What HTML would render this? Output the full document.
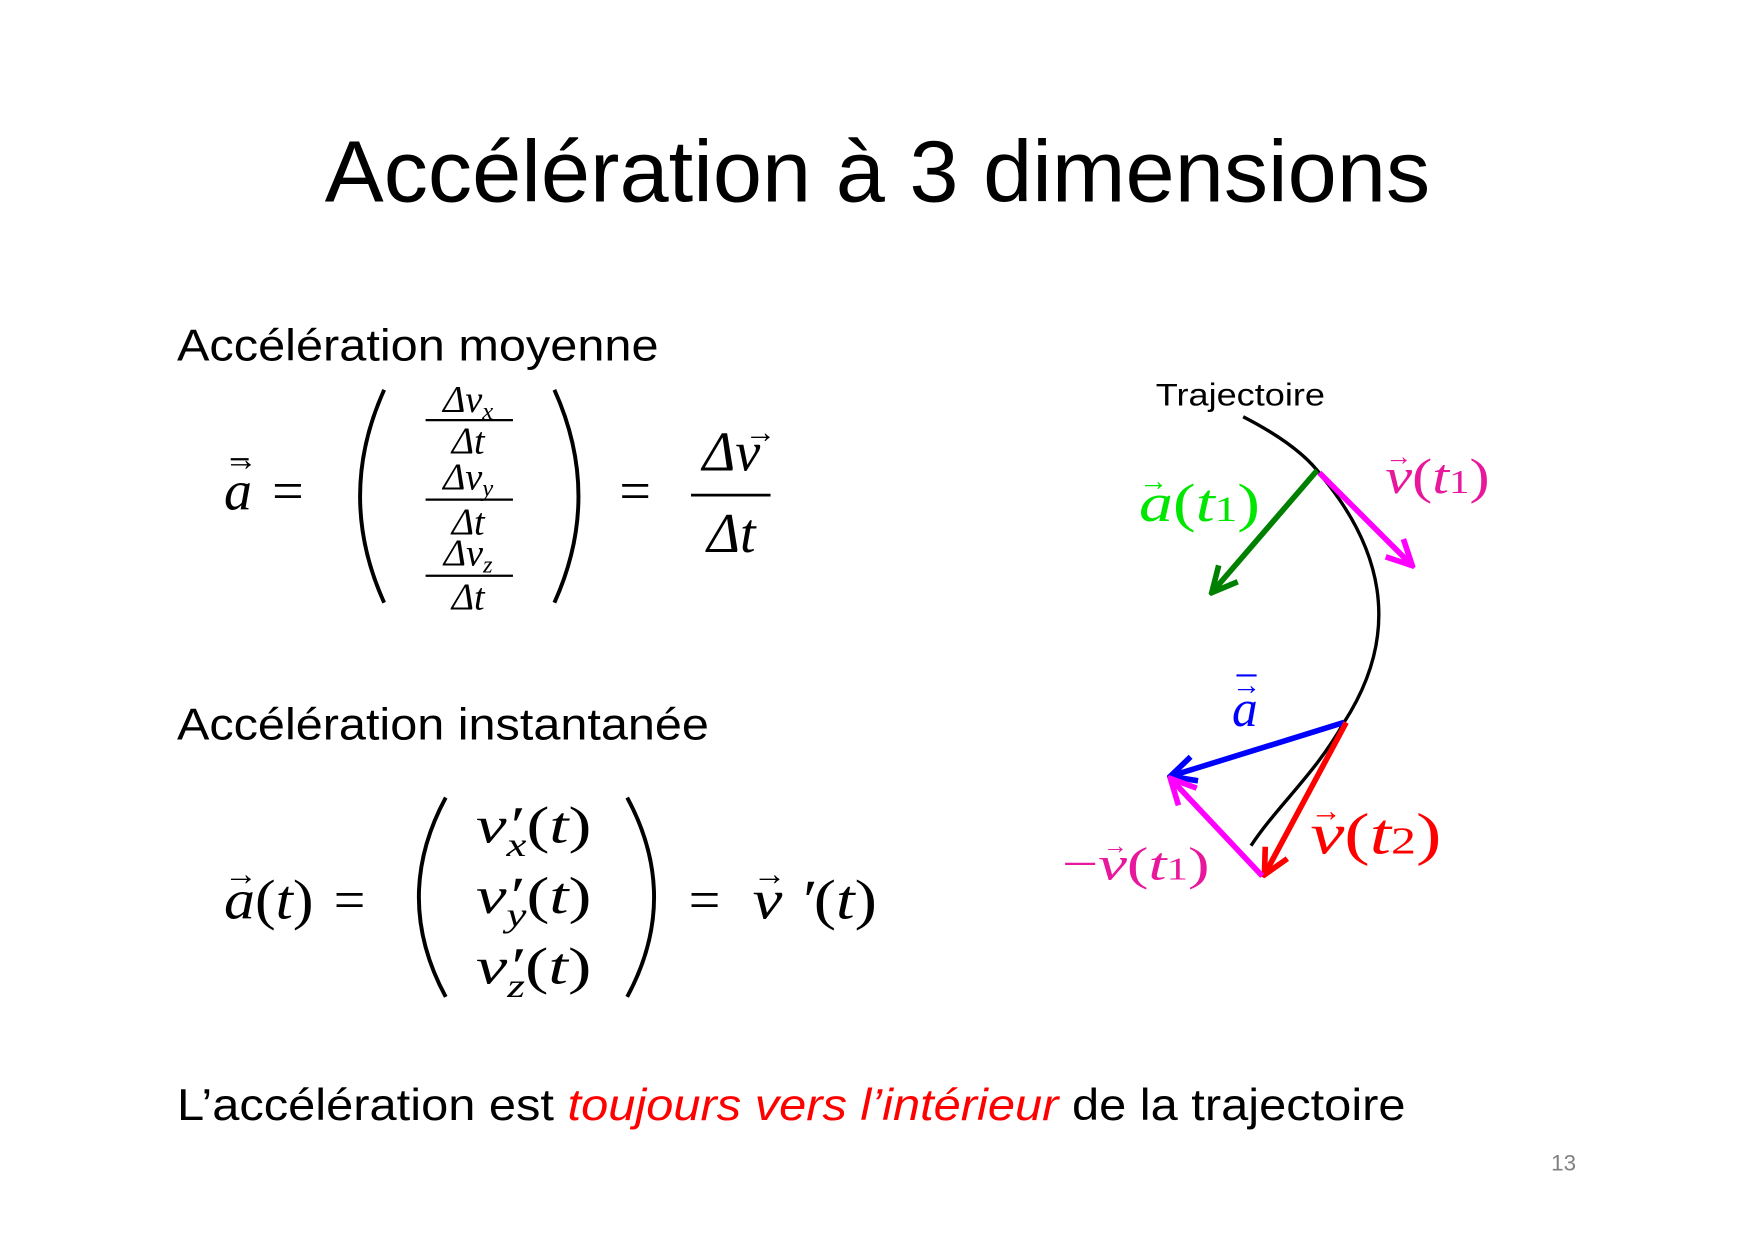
<!DOCTYPE html>
<html><head><meta charset="utf-8"><style>
html,body{margin:0;padding:0;background:#fff}
svg{display:block}
.s{font-family:"Liberation Sans",sans-serif}
.m{font-family:"Liberation Serif",serif;font-style:italic}
.r{font-family:"Liberation Serif",serif}
</style></head><body>
<svg width="1755" height="1240" viewBox="0 0 1567 1107" xmlns="http://www.w3.org/2000/svg">
<defs>
<marker id="g" viewBox="0 0 10 10" refX="9" refY="5" markerWidth="28" markerHeight="28" markerUnits="userSpaceOnUse" orient="auto"><path d="M1,1 L9,5 L1,9" fill="none" stroke="#008000" stroke-width="1.8"/></marker>
<marker id="p" viewBox="0 0 10 10" refX="9" refY="5" markerWidth="28" markerHeight="28" markerUnits="userSpaceOnUse" orient="auto"><path d="M1,1 L9,5 L1,9" fill="none" stroke="#ff00ff" stroke-width="1.8"/></marker>
<marker id="b" viewBox="0 0 10 10" refX="9" refY="5" markerWidth="28" markerHeight="28" markerUnits="userSpaceOnUse" orient="auto"><path d="M1,1 L9,5 L1,9" fill="none" stroke="#0000ff" stroke-width="1.8"/></marker>
<marker id="rr" viewBox="0 0 10 10" refX="9" refY="5" markerWidth="28" markerHeight="28" markerUnits="userSpaceOnUse" orient="auto"><path d="M1,1 L9,5 L1,9" fill="none" stroke="#ff0000" stroke-width="1.8"/></marker>
</defs>
<text class="s" x="290" y="180" font-size="78" textLength="987" lengthAdjust="spacingAndGlyphs">Accélération à 3 dimensions</text>
<text class="s" x="158" y="322" font-size="40" textLength="430" lengthAdjust="spacingAndGlyphs">Accélération moyenne</text>
<text class="s" x="158" y="660" font-size="40" textLength="475" lengthAdjust="spacingAndGlyphs">Accélération instantanée</text>
<text class="s" x="158" y="1000" font-size="40" textLength="1097" lengthAdjust="spacingAndGlyphs">L’accélération est <tspan fill="#ff0000" font-style="italic">toujours vers l’intérieur</tspan> de la trajectoire</text>
<text class="s" x="1385" y="1045" font-size="20" fill="#808080">13</text>

<!-- Eq 1 -->
<text class="m" x="200" y="455" font-size="50">a</text>
<text class="r" x="200" y="420" font-size="30">→</text>
<line x1="206" y1="410" x2="222" y2="410" stroke="#000" stroke-width="2"/>
<text class="r" x="243" y="455" font-size="50">=</text>
<path d="M343,348 Q300,443 343,538" fill="none" stroke="#000" stroke-width="3.5"/>
<path d="M495,348 Q538,443 495,538" fill="none" stroke="#000" stroke-width="3.5"/>
<g font-size="34" text-anchor="middle">
<text class="m" x="418" y="368">Δv<tspan font-size="22" dy="6">x</tspan></text>
<line x1="380" y1="375" x2="458" y2="375" stroke="#000" stroke-width="2"/>
<text class="m" x="418" y="405">Δt</text>
<text class="m" x="418" y="437">Δv<tspan font-size="22" dy="6">y</tspan></text>
<line x1="380" y1="446" x2="458" y2="446" stroke="#000" stroke-width="2"/>
<text class="m" x="418" y="477">Δt</text>
<text class="m" x="418" y="505">Δv<tspan font-size="22" dy="6">z</tspan></text>
<line x1="380" y1="514" x2="458" y2="514" stroke="#000" stroke-width="2"/>
<text class="m" x="418" y="544">Δt</text>
</g>
<text class="r" x="553" y="455" font-size="50">=</text>
<text class="m" x="653" y="420" font-size="50" text-anchor="middle">Δv</text>
<text class="r" x="665" y="395" font-size="28">→</text>
<line x1="617" y1="442" x2="688" y2="442" stroke="#000" stroke-width="2.5"/>
<text class="m" x="653" y="493" font-size="50" text-anchor="middle">Δt</text>

<!-- Eq 2 -->
<text class="m" x="200" y="820" font-size="50" textLength="80" lengthAdjust="spacingAndGlyphs">a<tspan class="r" font-style="normal">(</tspan>t<tspan class="r" font-style="normal">)</tspan></text>
<text class="r" x="200" y="790" font-size="30">→</text>
<text class="r" x="298" y="820" font-size="50">=</text>
<path d="M398,712 Q350,801 398,890" fill="none" stroke="#000" stroke-width="3.5"/>
<path d="M560,712 Q608,801 560,890" fill="none" stroke="#000" stroke-width="3.5"/>
<g font-size="46">
<text class="m" x="425" y="752" textLength="103" lengthAdjust="spacingAndGlyphs">v′<tspan font-size="30" dx="-10" dy="12">x</tspan><tspan dy="-12" class="r" font-style="normal">(</tspan>t<tspan class="r" font-style="normal">)</tspan></text>
<text class="m" x="425" y="815" textLength="103" lengthAdjust="spacingAndGlyphs">v′<tspan font-size="30" dx="-10" dy="12">y</tspan><tspan dy="-12" class="r" font-style="normal">(</tspan>t<tspan class="r" font-style="normal">)</tspan></text>
<text class="m" x="425" y="878" textLength="103" lengthAdjust="spacingAndGlyphs">v′<tspan font-size="30" dx="-10" dy="12">z</tspan><tspan dy="-12" class="r" font-style="normal">(</tspan>t<tspan class="r" font-style="normal">)</tspan></text>
</g>
<text class="r" x="615" y="820" font-size="50">=</text>
<text class="m" x="672" y="820" font-size="50" textLength="111" lengthAdjust="spacingAndGlyphs">v ′<tspan class="r" font-style="normal">(</tspan>t<tspan class="r" font-style="normal">)</tspan></text>
<text class="r" x="672" y="790" font-size="30">→</text>

<!-- Diagram -->
<text class="s" x="1032" y="362" font-size="28" textLength="151" lengthAdjust="spacingAndGlyphs">Trajectoire</text>
<path d="M1110,372 C1145,390 1168,408 1180,425 C1230,485 1255,560 1200,645 C1175,690 1140,720 1117,755" fill="none" stroke="#000" stroke-width="3"/>
<line x1="1176" y1="420" x2="1082" y2="529" stroke="#008000" stroke-width="5" marker-end="url(#g)"/>
<line x1="1178" y1="422" x2="1261" y2="505" stroke="#ff00ff" stroke-width="5" marker-end="url(#p)"/>
<line x1="1200" y1="645" x2="1045" y2="693" stroke="#0000ff" stroke-width="5" marker-end="url(#b)"/>
<line x1="1202" y1="645" x2="1129" y2="781" stroke="#ff0000" stroke-width="5" marker-end="url(#rr)"/>
<line x1="1127" y1="782" x2="1045" y2="695" stroke="#ff00ff" stroke-width="5" marker-end="url(#p)"/>

<text class="m" x="1017" y="465" font-size="48" fill="#00e600" textLength="108" lengthAdjust="spacingAndGlyphs">a<tspan class="r" font-style="normal">(</tspan>t<tspan class="r" font-style="normal" font-size="32">1</tspan><tspan class="r" font-style="normal">)</tspan></text>
<text class="r" x="1017" y="438" font-size="26" fill="#00e600">→</text>
<text class="m" x="1237" y="440" font-size="44" fill="#e8189c" textLength="93" lengthAdjust="spacingAndGlyphs">v<tspan class="r" font-style="normal">(</tspan>t<tspan class="r" font-style="normal" font-size="30">1</tspan><tspan class="r" font-style="normal">)</tspan></text>
<text class="r" x="1237" y="415" font-size="24" fill="#e8189c">→</text>
<text class="m" x="1100" y="648" font-size="46" fill="#0000ff">a</text>
<text class="r" x="1100" y="620" font-size="26" fill="#0000ff">→</text>
<line x1="1104" y1="603" x2="1122" y2="603" stroke="#0000ff" stroke-width="2"/>
<text class="m" x="1170" y="762" font-size="52" fill="#ff0000" textLength="117" lengthAdjust="spacingAndGlyphs">v<tspan class="r" font-style="normal">(</tspan>t<tspan class="r" font-style="normal" font-size="34">2</tspan><tspan class="r" font-style="normal">)</tspan></text>
<text class="r" x="1170" y="733" font-size="28" fill="#ff0000">→</text>
<text class="m" x="948" y="785" font-size="42" fill="#e8189c" textLength="132" lengthAdjust="spacingAndGlyphs"><tspan class="r" font-style="normal">−</tspan>v<tspan class="r" font-style="normal">(</tspan>t<tspan class="r" font-style="normal" font-size="28">1</tspan><tspan class="r" font-style="normal">)</tspan></text>
<text class="r" x="985" y="762" font-size="22" fill="#e8189c">→</text>
</svg>
</body></html>
